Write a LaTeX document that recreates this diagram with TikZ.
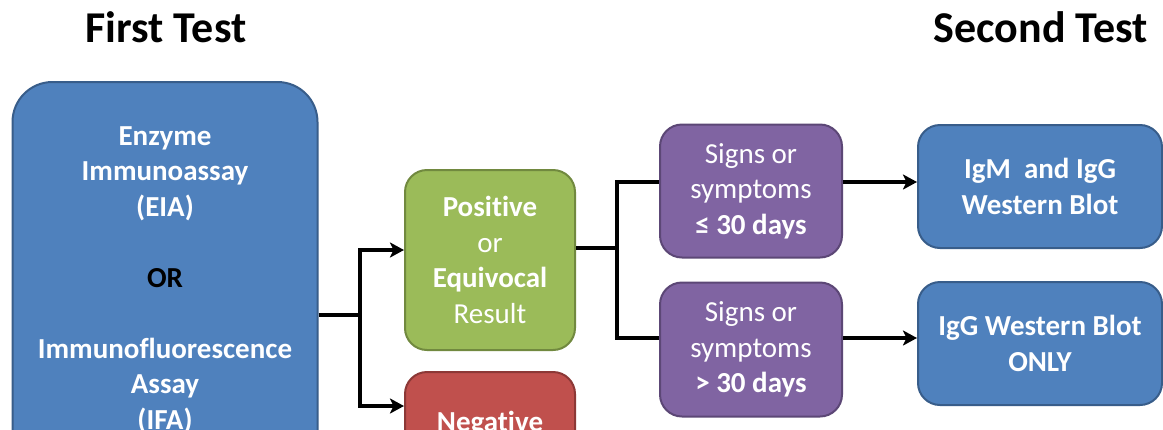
\documentclass[tikz,border=0pt]{standalone}
\usepackage{fontspec}
\setmainfont{Carlito}[Ligatures=NoCommon]
\usetikzlibrary{arrows.meta}
\definecolor{bfill}{HTML}{4F81BD}
\definecolor{bdraw}{HTML}{385D8A}
\definecolor{gfill}{HTML}{9BBB59}
\definecolor{gdraw}{HTML}{71893F}
\definecolor{rfill}{HTML}{C0504D}
\definecolor{rdraw}{HTML}{8C3836}
\definecolor{pfill}{HTML}{8064A2}
\definecolor{pdraw}{HTML}{5C4776}
\tikzset{
  box/.style={rounded corners=22pt, line width=2pt, text=white, align=center, inner sep=0pt,
    font=\fontsize{29}{35.5}\selectfont},
  bluebox/.style={box, fill=bfill, draw=bdraw},
  greenbox/.style={box, fill=gfill, draw=gdraw},
  redbox/.style={box, fill=rfill, draw=rdraw},
  purplebox/.style={box, fill=pfill, draw=pdraw},
  title/.style={font=\fontsize{44}{52}\selectfont\bfseries, anchor=base, inner sep=0pt},
  conn/.style={line width=3.5pt, draw=black},
  arr/.style={conn, -{Stealth[length=14pt,width=15pt,inset=3.5pt]}},
}
\begin{document}
\begin{tikzpicture}[x=1pt,y=-1pt]
\useasboundingbox (0,0) rectangle (1163,429);
\clip (0,0) rectangle (1163,429);
\fill[white] (0,0) rectangle (1163,429);
\node[title] (t1) at (166,42) {First Test};
\node[title] (t2) at (1041,42) {Second Test};
\node[bluebox, rounded corners=40pt, minimum width=305pt, minimum height=396pt, font=\fontsize{29}{35.5}\selectfont\bfseries] (big) at (165,280)
  {Enzyme\\Immunoassay\\(EIA)\\[35.5pt]\textcolor{black}{OR}\\[35.5pt]Immunofluorescence\\Assay\\(IFA)};
\node[greenbox, minimum width=170pt, minimum height=180pt] (pos) at (490,260)
  {\textbf{Positive}\\or\\\textbf{Equivocal}\\Result};
\node[redbox, minimum width=170pt, minimum height=180pt] (neg) at (490,462) {};
\node[font=\fontsize{29}{35.5}\selectfont\bfseries, text=white, anchor=base, inner sep=0pt] (negtxt) at (490,431) {Negative};
\node[purplebox, minimum width=182pt, minimum height=133pt] (s1) at (751,191)
  {Signs or\\symptoms\\\textbf{≤ 30 days}};
\node[purplebox, minimum width=182pt, minimum height=134pt] (s2) at (751,349.5)
  {Signs or\\symptoms\\\textbf{> 30 days}};
\node[bluebox, minimum width=244pt, minimum height=123pt, font=\fontsize{29}{35.5}\selectfont\bfseries] (b1) at (1040,186.5)
  {IgM~ and IgG\\Western Blot};
\node[bluebox, minimum width=244pt, minimum height=123pt, font=\fontsize{29}{35.5}\selectfont\bfseries] (b2) at (1040,343.5)
  {IgG Western Blot\\ONLY};
\coordinate (j1) at (360,315);
\coordinate (j2) at (617,248);
\coordinate (ya) at (0,250);
\coordinate (yb) at (0,406);
\coordinate (yc) at (0,182);
\coordinate (yd) at (0,338);
\draw[conn] (big.east |- j1) -- (j1);
\draw[arr] (j1) |- (pos.west |- ya);
\draw[arr] (j1) |- (neg.west |- yb);
\draw[conn] (pos.east |- j2) -- (j2);
\draw[conn] (j2) |- (s1.west |- yc);
\draw[conn] (j2) |- (s2.west |- yd);
\draw[arr] (s1.east |- yc) -- (b1.west |- yc);
\draw[arr] (s2.east |- yd) -- (b2.west |- yd);
\end{tikzpicture}
\end{document}
